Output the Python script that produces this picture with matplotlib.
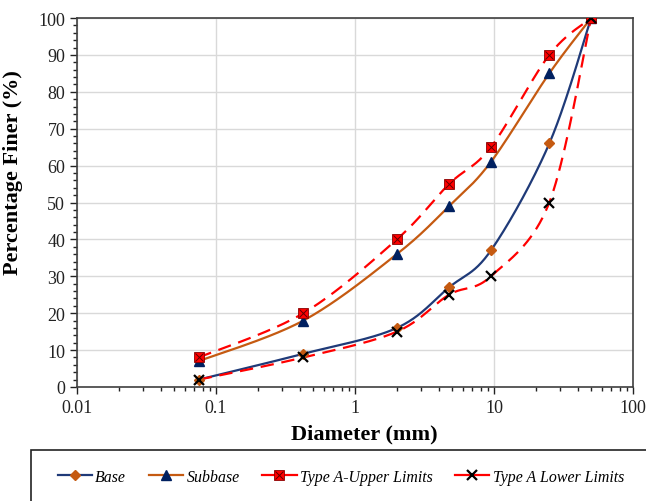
import numpy as np
import matplotlib
matplotlib.use("Agg")
import matplotlib.pyplot as plt
from matplotlib.lines import Line2D
from matplotlib.patches import Rectangle
from matplotlib.ticker import FixedLocator, NullFormatter, FuncFormatter

plt.rcParams['font.family'] = ['Liberation Serif', 'DejaVu Serif']

# Sieve sizes (mm) and percentage passing
sieve_mm = [0.075, 0.425, 2.0, 4.75, 9.5, 25.0, 50.0]
base = [2, 9, 16, 27, 37, 66, 100]
subbase = [7, 18, 36, 49, 61, 85, 100]
upper_limit = [8, 20, 40, 55, 65, 90, 100]
lower_limit = [2, 8, 15, 25, 30, 50, 100]

NAVY = '#1F3A78'
ORANGE = '#C55A11'
RED = '#FF0000'


def smooth(xs, ys, n=40):
    """Bezier smoothing through points (log-x space), like spreadsheet smoothed lines."""
    lx = np.log10(np.asarray(xs, float))
    y = np.asarray(ys, float)
    P = np.column_stack([lx, y])
    out = []
    m = len(P)
    for i in range(m - 1):
        p0 = P[i - 1] if i > 0 else P[i]
        p1 = P[i]
        p2 = P[i + 1]
        p3 = P[i + 2] if i + 2 < m else P[i + 1]
        c1 = p1 + (p2 - p0) / 6.0
        c2 = p2 - (p3 - p1) / 6.0
        t = np.linspace(0, 1, n)[:, None]
        seg = ((1 - t) ** 3) * p1 + 3 * ((1 - t) ** 2) * t * c1 + 3 * (1 - t) * t ** 2 * c2 + t ** 3 * p2
        if i > 0:
            seg = seg[1:]
        out.append(seg)
    pts = np.vstack(out)
    return 10 ** pts[:, 0], pts[:, 1]


fig = plt.figure(figsize=(6.46, 5.02), dpi=100)
ax = fig.add_axes([77 / 646, 1 - 388 / 502, (633 - 77) / 646, (388 - 19) / 502])

ax.set_xscale('log')
ax.set_xlim(0.01, 100)
ax.set_ylim(0, 100)

# grid
ax.grid(True, which='major', color='#D9D9D9', linewidth=1.0)
ax.set_axisbelow(True)

dash = (0, (6, 3.5))

x, y = smooth(sieve_mm, base)
ax.plot(x, y, color=NAVY, lw=1.6, zorder=3)
ax.plot(sieve_mm, base, linestyle='none', marker='D', ms=5.5, color=ORANGE, zorder=5)

x, y = smooth(sieve_mm, subbase)
ax.plot(x, y, color=ORANGE, lw=1.6, zorder=3)
ax.plot(sieve_mm, subbase, linestyle='none', marker='^', ms=7, color='#002060', zorder=5)

x, y = smooth(sieve_mm, upper_limit)
ax.plot(x, y, color=RED, lw=1.6, linestyle=dash, zorder=3)
ax.plot(sieve_mm, upper_limit, linestyle='none', marker='s', ms=7.5, color=RED,
        markeredgecolor='#8B0000', markeredgewidth=0.6, zorder=5)
ax.plot(sieve_mm, upper_limit, linestyle='none', marker='x', ms=6, color='#600000',
        markeredgewidth=0.7, zorder=6)

x, y = smooth(sieve_mm, lower_limit)
ax.plot(x, y, color=RED, lw=1.6, linestyle=dash, zorder=3)
ax.plot(sieve_mm, lower_limit, linestyle='none', marker='x', ms=7.5, color='black',
        markeredgewidth=1.6, zorder=6)

# ticks
ax.set_yticks(np.arange(0, 101, 10))
ax.yaxis.set_minor_locator(FixedLocator(np.arange(0, 101, 2)))
ax.xaxis.set_major_formatter(FuncFormatter(lambda v, p: f"{v:g}"))
ax.xaxis.set_minor_formatter(NullFormatter())
ax.tick_params(axis='both', which='major', direction='out', length=5, width=1.0,
               labelsize=13, colors='#222222')
ax.tick_params(axis='both', which='minor', direction='out', length=3, width=1.0, colors='#222222')
for s in ax.spines.values():
    s.set_color('#404040')
    s.set_linewidth(1.2)

ax.set_xlabel('Diameter (mm)', fontsize=16, fontweight='bold')
ax.set_ylabel('Percentage Finer (%)', fontsize=16, fontweight='bold')
ax.xaxis.set_label_coords(0.516, -0.098)
ax.yaxis.set_label_coords(-0.097, 0.585)

# legend box
fig.patches.append(Rectangle((31 / 646, -0.05), 1.0, 0.05 + 51 / 502,
                             transform=fig.transFigure, fill=False,
                             edgecolor='#222222', linewidth=1.2, clip_on=False))

h_base = Line2D([], [], color=NAVY, lw=1.6, marker='D', ms=5.5, mfc=ORANGE, mec=ORANGE)
h_sub = Line2D([], [], color=ORANGE, lw=1.6, marker='^', ms=7, mfc='#002060', mec='#002060')
h_up_sq = Line2D([], [], color=RED, lw=1.6, marker='s', ms=7.5, mfc=RED, mec='#8B0000', mew=0.6)
h_up_x = Line2D([], [], color=RED, lw=0, marker='x', ms=6, mec='#600000', mew=0.7)
h_low = Line2D([], [], color=RED, lw=1.6, marker='x', ms=7.5, mec='black', mew=1.6)

fig.legend([h_base, h_sub, (h_up_sq, h_up_x), h_low],
           ['Base', 'Subbase', 'Type A-Upper Limits', 'Type A Lower Limits'],
           loc='center', bbox_to_anchor=(341 / 646, 1 - 478 / 502), ncol=4, frameon=False,
           prop={'style': 'italic', 'size': 11.4}, handlelength=2.15, handletextpad=0.2,
           columnspacing=1.45, borderpad=0, borderaxespad=0)

fig.savefig('out.png', dpi=100)
